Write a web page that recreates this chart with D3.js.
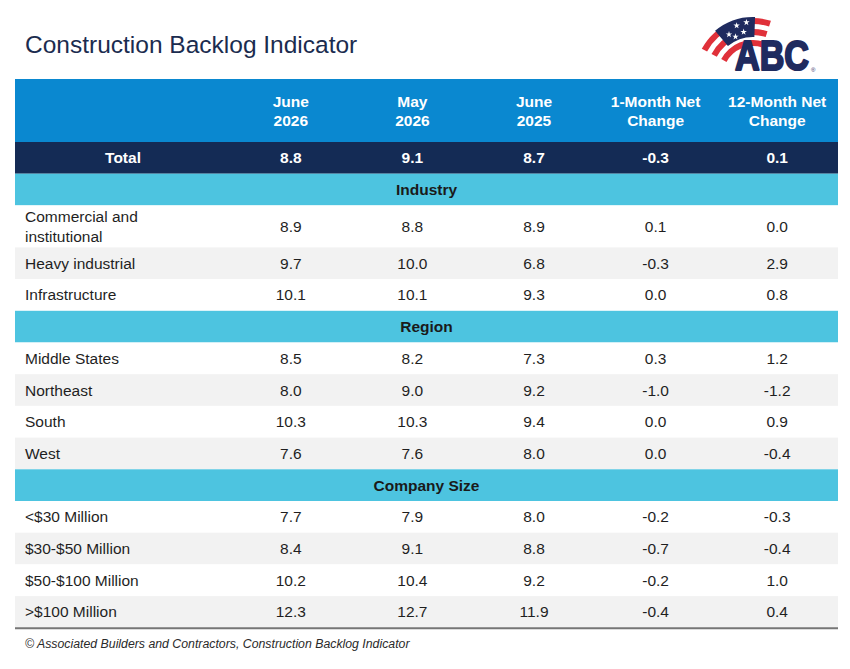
<!DOCTYPE html>
<html lang="en">
<head>
  <title>Construction Backlog Indicator</title>
  <meta charset="utf-8">
  <script src="https://d3js.org/d3.v7.min.js" charset="utf-8"></script>
  <style>
  body { margin: 0; background: #fff; }
  svg { display: block; }
  text { font-family: "Liberation Sans", Arial, sans-serif; }
  </style>
</head>
<body>
  <script>
    // column headers (two lines each)
    var colHeads = [["June", "2026"], ["May", "2026"], ["June", "2025"],
                    ["1-Month Net", "Change"], ["12-Month Net", "Change"]];
    var totalValues = [8.8, 9.1, 8.7, -0.3, 0.1];

    var industryLabels = ["Commercial and|institutional", "Heavy industrial", "Infrastructure"];
    var industryValues = [[8.9, 8.8, 8.9, 0.1, 0.0],
                          [9.7, 10.0, 6.8, -0.3, 2.9],
                          [10.1, 10.1, 9.3, 0.0, 0.8]];

    var regionLabels = ["Middle States", "Northeast", "South", "West"];
    var regionValues = [[8.5, 8.2, 7.3, 0.3, 1.2],
                        [8.0, 9.0, 9.2, -1.0, -1.2],
                        [10.3, 10.3, 9.4, 0.0, 0.9],
                        [7.6, 7.6, 8.0, 0.0, -0.4]];

    var sizeLabels = ["<$30 Million", "$30-$50 Million", "$50-$100 Million", ">$100 Million"];
    var sizeValues = [[7.7, 7.9, 8.0, -0.2, -0.3],
                      [8.4, 9.1, 8.8, -0.7, -0.4],
                      [10.2, 10.4, 9.2, -0.2, 1.0],
                      [12.3, 12.7, 11.9, -0.4, 0.4]];

    var sections = [
      { name: "Industry", labels: industryLabels, values: industryValues },
      { name: "Region", labels: regionLabels, values: regionValues },
      { name: "Company Size", labels: sizeLabels, values: sizeValues }
    ];

    var w = 850, h = 669;
    var tLeft = 15, tRight = 838, tTop = 79;
    var labelColW = 215;
    var rowH = 31.7, headH = 63, tallH = 42;
    var fs = 15.5;

    var fmt = d3.formatLocale({ decimal: ".", thousands: ",", grouping: [3],
                                currency: ["$", ""], minus: "-" }).format(".1f");

    var xScale = d3.scaleBand()
      .domain(d3.range(colHeads.length))
      .range([tLeft + labelColW, tRight]);

    // build the list of rows with their heights
    var rows = [];
    rows.push({ kind: "head", h: headH });
    rows.push({ kind: "total", h: rowH, label: "Total", values: totalValues });
    sections.forEach(function(s) {
      rows.push({ kind: "band", h: rowH, label: s.name });
      s.labels.forEach(function(l, i) {
        var lines = l.split("|");
        rows.push({ kind: "data", h: lines.length > 1 ? tallH : rowH,
                    lines: lines, values: s.values[i], stripe: i % 2 === 1 });
      });
    });
    var yPos = tTop;
    rows.forEach(function(r) { r.y = yPos; yPos += r.h; });
    var tBottom = yPos;

    var svg = d3.select("body").append("svg")
      .attr("width", w)
      .attr("height", h);

    // title
    svg.append("text")
      .attr("x", 25).attr("y", 53)
      .attr("font-size", 24.5)
      .attr("fill", "#1b2c4f")
      .text("Construction Backlog Indicator");

    // row backgrounds
    var fills = { head: "#0a88d0", total: "#142b55", band: "#4dc4e0" };
    svg.selectAll("rect.row")
      .data(rows)
      .enter()
      .append("rect")
      .attr("class", "row")
      .attr("x", tLeft)
      .attr("y", function(d) { return d.y; })
      .attr("width", tRight - tLeft)
      .attr("height", function(d) { return d.h; })
      .attr("fill", function(d) {
        if (d.kind === "data") return d.stripe ? "#f2f2f2" : "#ffffff";
        return fills[d.kind];
      });

    // header text
    var head = rows[0];
    colHeads.forEach(function(c, i) {
      var t = svg.append("text")
        .attr("x", xScale(i) + xScale.bandwidth() / 2)
        .attr("y", head.y + 28)
        .attr("text-anchor", "middle")
        .attr("font-size", fs)
        .attr("font-weight", "bold")
        .attr("fill", "#ffffff");
      c.forEach(function(line, j) {
        t.append("tspan")
          .attr("x", xScale(i) + xScale.bandwidth() / 2)
          .attr("dy", j === 0 ? 0 : 18.5)
          .text(line);
      });
    });

    // total row
    var tot = rows[1];
    svg.append("text")
      .attr("x", tLeft + 108).attr("y", tot.y + tot.h / 2 + 5.5)
      .attr("text-anchor", "middle")
      .attr("font-size", fs).attr("font-weight", "bold")
      .attr("fill", "#ffffff")
      .text(tot.label);
    svg.selectAll("text.tot")
      .data(tot.values)
      .enter()
      .append("text")
      .attr("class", "tot")
      .attr("x", function(d, i) { return xScale(i) + xScale.bandwidth() / 2; })
      .attr("y", tot.y + tot.h / 2 + 5.5)
      .attr("text-anchor", "middle")
      .attr("font-size", fs).attr("font-weight", "bold")
      .attr("fill", "#ffffff")
      .text(function(d) { return fmt(d); });

    // section bands
    rows.filter(function(r) { return r.kind === "band"; }).forEach(function(r) {
      svg.append("text")
        .attr("x", (tLeft + tRight) / 2).attr("y", r.y + r.h / 2 + 5.5)
        .attr("text-anchor", "middle")
        .attr("font-size", fs).attr("font-weight", "bold")
        .attr("fill", "#1a1a1a")
        .text(r.label);
    });

    // data rows
    rows.filter(function(r) { return r.kind === "data"; }).forEach(function(r) {
      var cy = r.y + r.h / 2 + 5.5;
      var lab = svg.append("text")
        .attr("x", 25)
        .attr("y", r.lines.length > 1 ? cy - 10 : cy)
        .attr("font-size", fs)
        .attr("fill", "#1f1f1f");
      r.lines.forEach(function(line, j) {
        lab.append("tspan").attr("x", 25).attr("dy", j === 0 ? 0 : 20.5).text(line);
      });
      r.values.forEach(function(v, i) {
        svg.append("text")
          .attr("x", xScale(i) + xScale.bandwidth() / 2)
          .attr("y", cy)
          .attr("text-anchor", "middle")
          .attr("font-size", fs)
          .attr("fill", "#1f1f1f")
          .text(fmt(v));
      });
    });

    // bottom rule
    svg.append("line")
      .attr("x1", tLeft).attr("x2", tRight)
      .attr("y1", tBottom + 0.5).attr("y2", tBottom + 0.5)
      .attr("stroke", "#767676")
      .attr("stroke-width", 2);

    // footer
    svg.append("text")
      .attr("x", 25).attr("y", tBottom + 20)
      .attr("font-size", 12.3)
      .attr("font-style", "italic")
      .attr("fill", "#2a2a2a")
      .text("\u00A9 Associated Builders and Contractors, Construction Backlog Indicator");

    // ABC logo (rough drawing): waving flag as concentric arcs + wordmark
    var red = "#e0313a", navy = "#1f2b5f";
    var logo = svg.append("g").attr("transform", "translate(753,76)");
    var deg = Math.PI / 180;
    [[52, 58], [41, 47], [30, 36]].forEach(function(r) {
      logo.append("path")
        .attr("d", d3.arc().innerRadius(r[0]).outerRadius(r[1])
          .startAngle(-62 * deg).endAngle(18 * deg)())
        .attr("fill", red);
    });
    logo.append("path")
      .attr("d", d3.arc().innerRadius(39).outerRadius(59)
        .startAngle(-40 * deg).endAngle(2 * deg)())
      .attr("fill", navy);
    [[-30, 48], [-18, 53], [-7, 54], [-24, 43], [-12, 45]].forEach(function(p) {
      var a = p[0] * deg;
      logo.append("path")
        .attr("d", d3.symbol().type(d3.symbolStar).size(13)())
        .attr("transform", "translate(" + (p[1] * Math.sin(a)) + "," + (-p[1] * Math.cos(a)) + ")")
        .attr("fill", "#ffffff");
    });
    svg.append("text")
      .attr("x", 735).attr("y", 70)
      .attr("font-size", 43)
      .attr("font-weight", "bold")
      .attr("textLength", 74)
      .attr("lengthAdjust", "spacingAndGlyphs")
      .attr("fill", navy)
      .attr("stroke", navy)
      .attr("stroke-width", 2.2)
      .attr("stroke-linejoin", "round")
      .text("ABC");
    svg.append("text")
      .attr("x", 811).attr("y", 72)
      .attr("font-size", 6)
      .attr("fill", navy)
      .text("\u00AE");
  </script>
</body>
</html>
